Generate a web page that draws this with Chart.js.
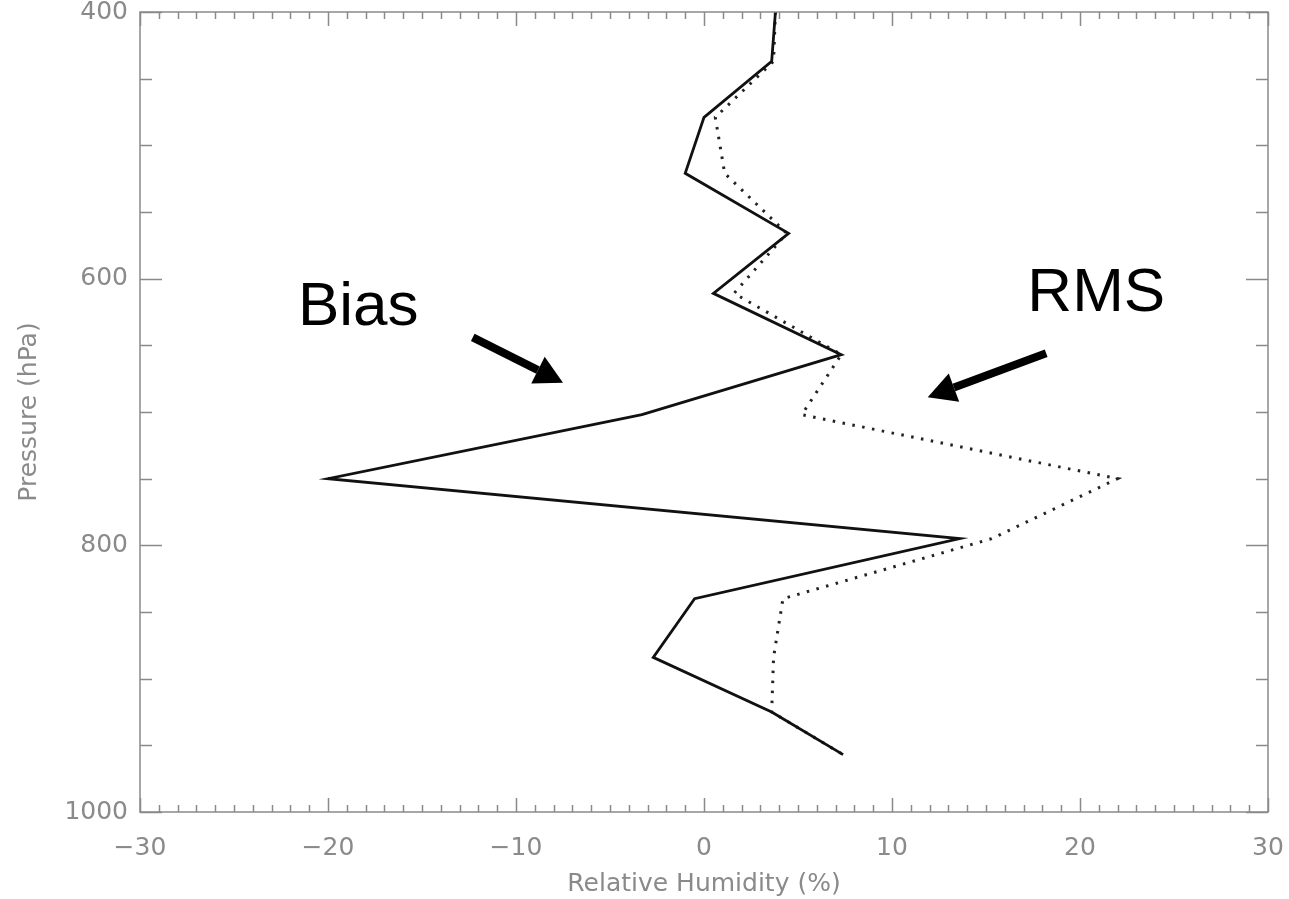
<!DOCTYPE html>
<html>
<head>
<meta charset="utf-8">
<title>Relative Humidity profile</title>
<script src="https://cdn.jsdelivr.net/npm/chart.js@4.4.1/dist/chart.umd.min.js"></script>
<style>
  html, body { margin: 0; padding: 0; background: #fff; }
  #wrap { width: 1289px; height: 899px; }
</style>
</head>
<body>
<div id="wrap"><canvas id="rhChart" width="1289" height="899"></canvas></div>
<script>
// pressure levels (hPa) and the two profiles (%)
const pressure = [400, 437, 479, 521, 566, 611, 657, 702, 750, 795, 840, 884, 925, 957];
const bias = [3.8, 3.6, 0.0, -1.0, 4.5, 0.5, 7.3, -3.3, -20.0, 13.6, -0.5, -2.7, 3.6, 7.4];
const rms = [3.8, 3.7, 0.6, 1.1, 4.4, 1.6, 7.3, 5.2, 22.0, 15.3, 4.2, 3.7, 3.6, 7.4];

const xTicks = [-30, -20, -10, 0, 10, 20, 30];
const yTicks = [400, 600, 800, 1000];

// annotation text + arrows, in data units (humidity, pressure)
const notes = [
  { text: "Bias", x: -21.6, y: 635, from: [-12.3, 644], to: [-7.5, 678] },
  { text: "RMS", x: 17.2, y: 624, from: [18.2, 656], to: [11.9, 689] },
];

const axisGrey = "#8a8a8a";
const labelFont = { family: "DejaVu Sans", size: 25 };

const toPoints = (xs) => xs.map((v, i) => ({ x: v, y: pressure[i] }));

// box round the plot with inward ticks on every side
const frame = {
  id: "frame",
  afterDraw(chart) {
    const { ctx, chartArea: a, scales } = chart;
    const sx = scales.x, sy = scales.y;
    ctx.save();
    ctx.strokeStyle = axisGrey;
    ctx.lineWidth = 1.5;
    ctx.strokeRect(a.left, a.top, a.right - a.left, a.bottom - a.top);
    ctx.beginPath();
    for (let v = -30; v <= 30; v += 1) {
      const px = Math.round(sx.getPixelForValue(v)) + 0.5;
      const len = v % 10 === 0 ? 14 : 7;
      ctx.moveTo(px, a.bottom); ctx.lineTo(px, a.bottom - len);
      ctx.moveTo(px, a.top); ctx.lineTo(px, a.top + len);
    }
    for (let p = 400; p <= 1000; p += 50) {
      const py = Math.round(sy.getPixelForValue(p)) + 0.5;
      const len = p % 200 === 0 ? 22 : 12;
      ctx.moveTo(a.left, py); ctx.lineTo(a.left + len, py);
      ctx.moveTo(a.right, py); ctx.lineTo(a.right - len, py);
    }
    ctx.stroke();
    ctx.restore();
  },
};

function arrow(ctx, x0, y0, x1, y1) {
  const ang = Math.atan2(y1 - y0, x1 - x0);
  const head = 28, half = 15;
  const bx = x1 - head * Math.cos(ang), by = y1 - head * Math.sin(ang);
  ctx.beginPath();
  ctx.moveTo(x0, y0);
  ctx.lineTo(bx, by);
  ctx.lineWidth = 8;
  ctx.stroke();
  ctx.beginPath();
  ctx.moveTo(x1, y1);
  ctx.lineTo(bx + half * Math.sin(ang), by - half * Math.cos(ang));
  ctx.lineTo(bx - half * Math.sin(ang), by + half * Math.cos(ang));
  ctx.closePath();
  ctx.fill();
}

const annotate = {
  id: "annotate",
  afterDraw(chart) {
    const { ctx, scales } = chart;
    const sx = scales.x, sy = scales.y;
    ctx.save();
    ctx.fillStyle = "#000";
    ctx.strokeStyle = "#000";
    ctx.font = "62px 'Liberation Sans', Arial, sans-serif";
    ctx.textBaseline = "alphabetic";
    notes.forEach((n) => {
      ctx.fillText(n.text, sx.getPixelForValue(n.x), sy.getPixelForValue(n.y));
      arrow(ctx,
        sx.getPixelForValue(n.from[0]), sy.getPixelForValue(n.from[1]),
        sx.getPixelForValue(n.to[0]), sy.getPixelForValue(n.to[1]));
    });
    ctx.restore();
  },
};

new Chart(document.getElementById("rhChart"), {
  type: "scatter",
  data: {
    datasets: [
      {
        label: "Bias",
        data: toPoints(bias),
        showLine: true,
        borderColor: "#111",
        borderWidth: 2.8,
        pointRadius: 0,
      },
      {
        label: "RMS",
        data: toPoints(rms),
        showLine: true,
        borderColor: "#222",
        borderWidth: 3,
        borderDash: [2.5, 7.5],
        pointRadius: 0,
      },
    ],
  },
  options: {
    responsive: false,
    animation: false,
    events: [],
    layout: { padding: { left: 0, right: 21, top: 12, bottom: 0 } },
    plugins: { legend: { display: false }, tooltip: { enabled: false } },
    scales: {
      x: {
        type: "linear",
        min: -30,
        max: 30,
        afterBuildTicks: (s) => { s.ticks = xTicks.map((v) => ({ value: v })); },
        afterFit: (s) => { s.height = 87; s.paddingLeft = 0; s.paddingRight = 0; },
        grid: { display: false },
        border: { display: false },
        ticks: {
          color: axisGrey,
          font: labelFont,
          padding: 13,
          maxRotation: 0,
          callback: (v) => String(v).replace("-", "\u2212"),
        },
        title: {
          display: true,
          text: "Relative Humidity (%)",
          color: axisGrey,
          font: labelFont,
          padding: { top: 0, bottom: 0 },
        },
      },
      y: {
        type: "linear",
        reverse: true,
        min: 400,
        max: 1000,
        afterBuildTicks: (s) => { s.ticks = yTicks.map((v) => ({ value: v })); },
        afterFit: (s) => { s.width = 140; s.paddingTop = 0; s.paddingBottom = 0; },
        grid: { display: false },
        border: { display: false },
        ticks: { color: axisGrey, font: labelFont, padding: 4, callback: (v) => String(v) },
        title: {
          display: true,
          text: "Pressure (hPa)",
          color: axisGrey,
          font: labelFont,
          padding: { top: 14, bottom: 0 },
        },
      },
    },
  },
  plugins: [frame, annotate],
});
</script>
</body>
</html>
